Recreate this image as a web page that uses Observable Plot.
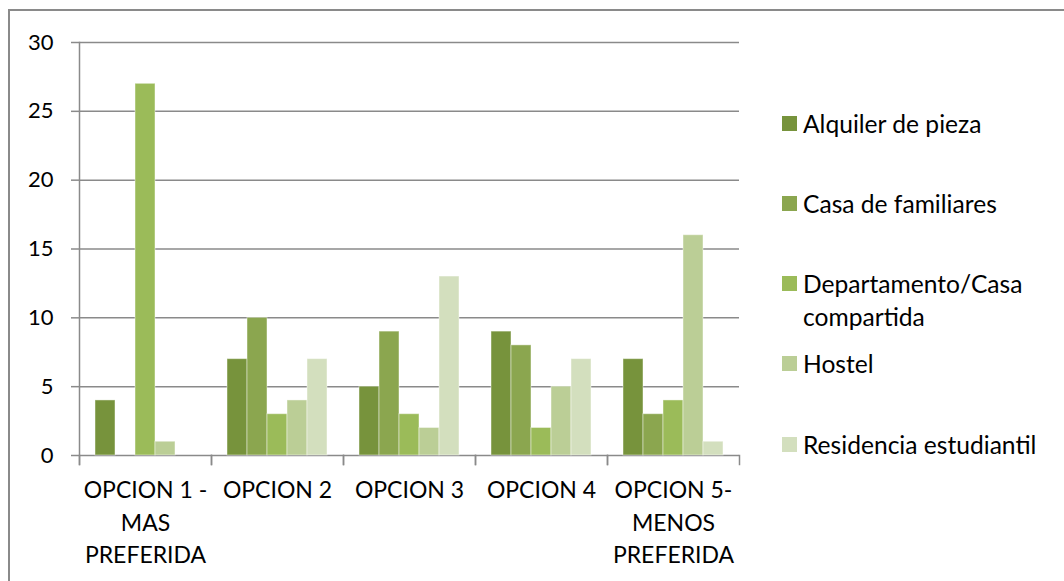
<!DOCTYPE html>
<html>
<head>
<meta charset="utf-8">
<script src="https://cdn.jsdelivr.net/npm/d3@7"></script>
<script src="https://cdn.jsdelivr.net/npm/@observablehq/plot@0.6"></script>
<style>
  html, body { margin: 0; padding: 0; background: #fff; }
  #wrap { position: relative; width: 1064px; height: 581px; font-family: Lato, sans-serif;
    background:
      linear-gradient(#8a8a8a, #8a8a8a) 8px 9px / 2px 572px no-repeat,
      linear-gradient(#8a8a8a, #8a8a8a) 8px 9px / 1056px 2px no-repeat; }
  #chart { position: absolute; left: 0; top: 0; }
  #legend { position: absolute; left: 782px; top: 0; width: 280px; font-size: 24.6px; color: #000; }
  .item { position: absolute; left: 0; width: 280px; display: flex; align-items: flex-start; line-height: 33px; }
  .sw { flex: 0 0 15px; width: 15px; height: 15px; margin-top: 9px; margin-right: 6px; }
  .lab { white-space: nowrap; }
</style>
</head>
<body>
<div id="wrap"><div id="chart"></div><div id="legend"></div></div>
<script>
const categories = ["OPCION 1 - MAS PREFERIDA", "OPCION 2", "OPCION 3", "OPCION 4", "OPCION 5- MENOS PREFERIDA"];
const categoryLabels = ["OPCION 1 -\nMAS\nPREFERIDA", "OPCION 2", "OPCION 3", "OPCION 4", "OPCION 5-\nMENOS\nPREFERIDA"];
const series = ["Alquiler de pieza", "Casa de familiares", "Departamento/Casa compartida", "Hostel", "Residencia estudiantil"];
const legendLabels = ["Alquiler de pieza", "Casa de familiares", "Departamento/Casa<br>compartida", "Hostel", "Residencia estudiantil"];
const alquiler = [4, 7, 5, 9, 7];
const casaFamiliares = [0, 10, 9, 8, 3];
const departamento = [27, 3, 3, 2, 4];
const hostel = [1, 4, 2, 5, 16];
const residencia = [0, 7, 13, 7, 1];
const colors = ["#77933c", "#8ba64f", "#9bbb59", "#bbce96", "#d3dfbe"];
const yTicks = [0, 5, 10, 15, 20, 25, 30];

const valuesBySeries = [alquiler, casaFamiliares, departamento, hostel, residencia];
const data = [];
categories.forEach((c, ci) => series.forEach((s, si) => data.push({category: c, series: s, value: valuesBySeries[si][ci]})));
const labelOf = new Map(categories.map((c, i) => [c, categoryLabels[i]]));
const gray = "#8a8a8a";
const innerHeight = 581 - 42 - 126;

const plot = Plot.plot({
  width: 1064,
  height: 581,
  marginLeft: 78,
  marginRight: 325,
  marginTop: 42,
  marginBottom: 126,
  style: {fontFamily: "Lato, sans-serif", fontSize: "23px", color: "#000", background: "transparent"},
  fx: {domain: categories, padding: 0, label: null},
  x: {domain: series, paddingInner: 0, paddingOuter: 0.8, axis: null},
  y: {domain: [0, 30], axis: null},
  color: {domain: series, range: colors},
  marks: [
    Plot.gridY(yTicks, {stroke: gray, strokeOpacity: 1, strokeWidth: 1.5}),
    Plot.axisY(yTicks, {tickSize: 8, tickPadding: 18, stroke: gray, strokeWidth: 1.5, fontSize: 22, fill: "#000", label: null}),
    Plot.barY(data.filter(d => d.value > 0), {fx: "category", x: "series", y: "value", fill: "series", inset: 0, stroke: "white", strokeOpacity: 0.45, strokeWidth: 1}),
    Plot.frame({facet: "super", anchor: "left", stroke: gray, strokeWidth: 1.5, insetBottom: -9}),
    Plot.frame({anchor: "left", stroke: gray, strokeWidth: 1.5, insetBottom: -9, insetTop: innerHeight}),
    Plot.frame({anchor: "right", stroke: gray, strokeWidth: 1.5, insetBottom: -9, insetTop: innerHeight}),
    Plot.axisFx({anchor: "bottom", tickSize: 0, tickPadding: 20, tickFormat: d => labelOf.get(d), lineHeight: 1.4, fontSize: 23, fill: "#000", label: null})
  ]
});
document.getElementById("chart").appendChild(plot);

const legend = document.getElementById("legend");
series.forEach((s, i) => {
  const item = document.createElement("div");
  item.className = "item";
  item.style.top = (123 - 16.5 + i * 80.3) + "px";
  item.innerHTML = `<div class="sw" style="background:${colors[i]}"></div><div class="lab">${legendLabels[i]}</div>`;
  legend.appendChild(item);
});
</script>
</body>
</html>
